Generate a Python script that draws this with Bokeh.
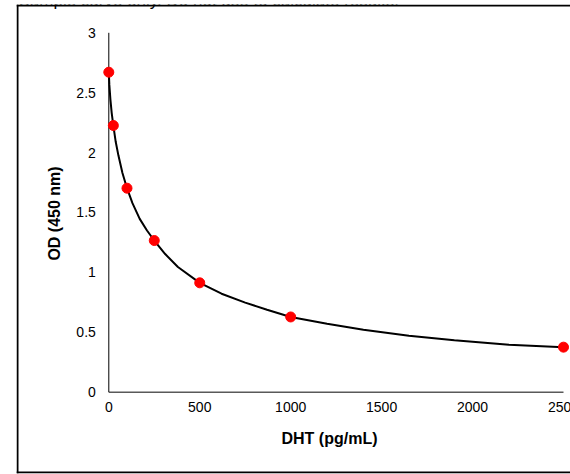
import math
from bokeh.plotting import figure
from bokeh.models import Range1d, Label, Span
from bokeh.core.properties import value
from bokeh.embed import file_html
from bokeh.resources import INLINE

# Data
dht = [0, 25, 100, 250, 500, 1000, 2500]
od = [2.671, 2.226, 1.703, 1.266, 0.913, 0.628, 0.376]

# Fitted standard curve
curve_x = [0, 3, 9, 16, 25, 38, 53, 75, 100, 130, 170, 210, 250, 310, 380, 500,
           620, 750, 870, 1000, 1200, 1400, 1650, 1900, 2200, 2500]
curve_y = [2.671, 2.565, 2.44, 2.33, 2.226, 2.09, 1.975, 1.83, 1.703, 1.578,
           1.447, 1.350, 1.266, 1.153, 1.045, 0.913, 0.822, 0.748, 0.688, 0.628,
           0.572, 0.522, 0.472, 0.433, 0.397, 0.376]

x_ticks = [0, 500, 1000, 1500, 2000, 2500]
x_tick_labels = ["0", "500", "1000", "1500", "2000", "2500"]
y_ticks = [0, 0.5, 1, 1.5, 2, 2.5, 3]
y_tick_labels = ["0", "0.5", "1", "1.5", "2", "2.5", "3"]

note = "Sample curve only. Do not use to calculate results."
x_title = "DHT (pg/mL)"
y_title = "OD (450 nm)"

FONT = "Liberation Sans"

p = figure(width=578, height=482, output_backend="svg", toolbar_location=None,
           x_range=Range1d(-507.5, 2538.5), y_range=Range1d(-0.6786, 3.2362),
           x_axis_location=None, y_axis_location=None,
           min_border_left=24, min_border_right=0, min_border_top=12,
           min_border_bottom=1,
           outline_line_color=None,
           background_fill_color="white", border_fill_color="white")
p.styles = {"margin": "-8px 0px -8px -8px"}
p.grid.visible = False

# outer border box (left, top, bottom; the right side lies beyond the page)
for loc, dim in ((25, "height"), (13, "width"), (480, "width")):
    p.add_layout(Span(location=loc, location_units="canvas", dimension=dim,
                      line_color="black", line_width=2))

# axis lines, spanning the tick extents
p.line([x_ticks[0], x_ticks[-1]], [y_ticks[0], y_ticks[0]],
       line_color="#595959", line_width=1.5)
p.line([x_ticks[0], x_ticks[0]], [y_ticks[0], y_ticks[-1]],
       line_color="black", line_width=1)

# tick labels
p.text(x=x_ticks, y=[y_ticks[0]] * len(x_ticks), text=x_tick_labels,
       text_font=value(FONT), text_font_size="14px", text_color="black",
       text_align="center", text_baseline="top", y_offset=10)
p.text(x=[x_ticks[0]] * len(y_ticks), y=y_ticks, text=y_tick_labels,
       text_font=value(FONT), text_font_size="14px", text_color="black",
       text_align="right", text_baseline="middle", x_offset=-13)

# curve and points
p.line(curve_x, curve_y, line_color="black", line_width=2)
p.scatter(dht, od, size=10, fill_color="#ff0000", line_color="#ff0000")

# axis titles
p.add_layout(Label(x=337, y=446, x_units="canvas", y_units="canvas",
                   text=x_title, text_font=FONT, text_font_size="16px",
                   text_font_style="bold", text_color="black",
                   text_align="center", text_baseline="middle"))
p.add_layout(Label(x=62, y=221, x_units="canvas", y_units="canvas",
                   text=y_title, text_font=FONT, text_font_size="16px",
                   text_font_style="bold", text_color="black",
                   text_align="center", text_baseline="middle",
                   angle=math.pi / 2))

# note above the border (mostly cut off at the top of the page)
p.add_layout(Label(x=26, y=7.5, x_units="canvas", y_units="canvas", text=note,
                   text_font=FONT, text_font_size="17px", text_color="black",
                   text_align="left", text_baseline="alphabetic"))

open("out.html", "w").write(file_html(p, INLINE))
